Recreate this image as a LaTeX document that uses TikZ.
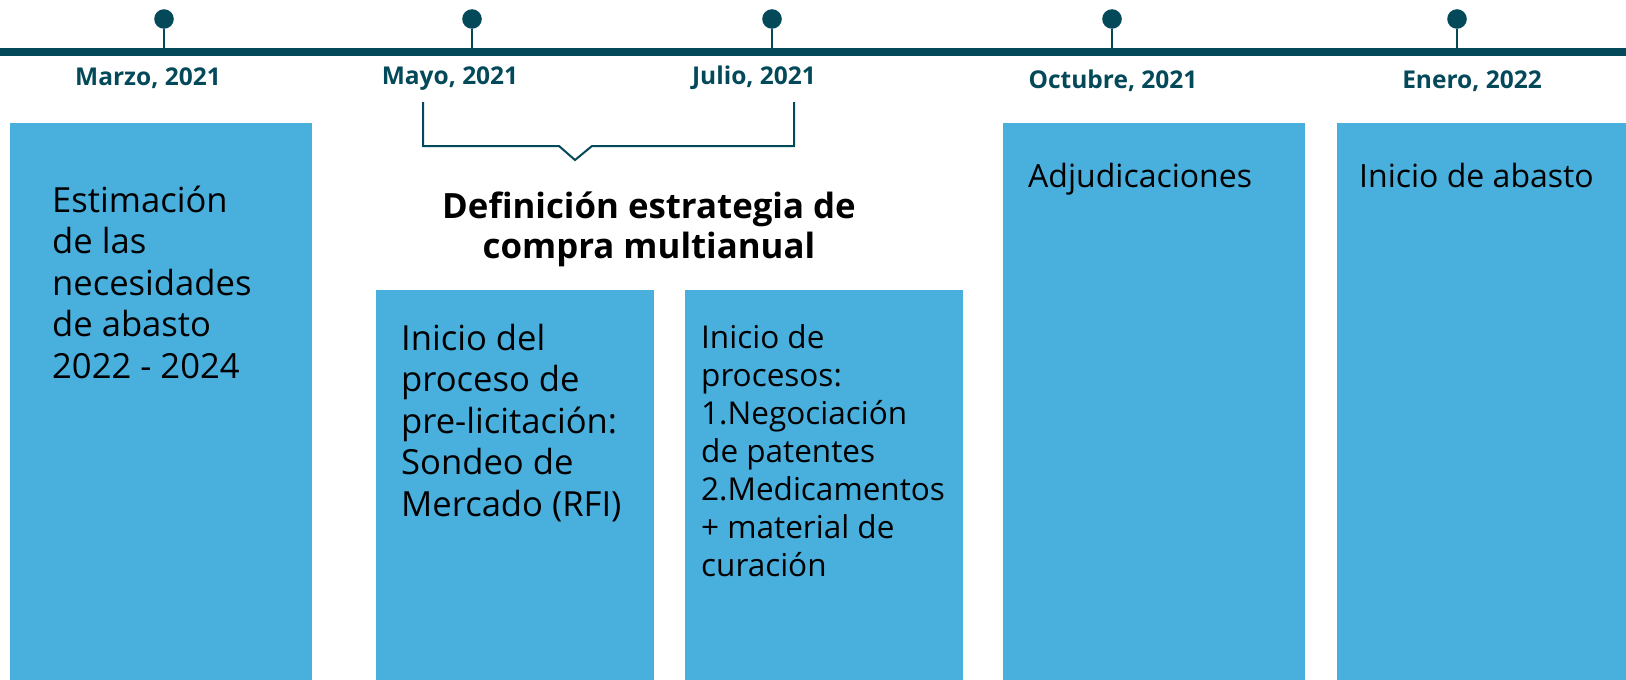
\documentclass[tikz,border=0pt]{standalone}
\usepackage{fontspec}
\setmainfont{Open Sans}

\definecolor{azuloscuro}{HTML}{04495A}
\definecolor{celeste}{HTML}{49AFDD}

\tikzset{
  caja/.style={fill=celeste},
  fecha/.style={anchor=base, text=azuloscuro, inner sep=0pt, font=\bfseries\fontsize{24.5}{28}\selectfont},
  texto/.style={anchor=base west, align=left, inner sep=0pt, font=\fontsize{34.6}{41.5}\selectfont},
  titulo/.style={anchor=base, align=center, inner sep=0pt, font=\bfseries\fontsize{34.8}{40}\selectfont},
}

\begin{document}
\begin{tikzpicture}[x=1pt, y=-1pt]
    \useasboundingbox (0,0) rectangle (1626,680);

    % Linea de tiempo
    \draw[azuloscuro, line width=7.4pt] (0,52) -- (1626,52);

    % Marcadores y fechas
    \foreach \x/\lx/\ly/\n/\t in {164/148/85/marzo/{Marzo, 2021}, 472/450/84/mayo/{Mayo, 2021}, 772/754/84/julio/{Julio, 2021}, 1112/1113/88/octubre/{Octubre, 2021}, 1457/1472/88/enero/{Enero, 2022}} {
        \draw[azuloscuro, line width=2pt] (\x,29) -- (\x,49);
        \fill[azuloscuro] (\x,19) circle (9.8pt);
        \node[fecha] (f-\n) at (\lx,\ly) {\t};
    }

    % Cajas
    \fill[caja] (10,123) rectangle (312,680);
    \fill[caja] (376,290) rectangle (654,680);
    \fill[caja] (685,290) rectangle (963,680);
    \fill[caja] (1003,123) rectangle (1305,680);
    \fill[caja] (1337,123) rectangle (1626,680);

    % Llave entre mayo y julio
    \draw[azuloscuro, line width=2pt] (423,102) -- (423,146) -- (559,146) -- (575,160) -- (592,146) -- (794,146) -- (794,102);
    % (el ancla base queda en la ultima linea)
    \node[titulo] (estrategia) at (649,258) {Definición estrategia de\\compra multianual};

    % Textos de las cajas
    \node[texto] (estimacion) at (52,378) {Estimación\\de las\\necesidades\\de abasto\\2022 - 2024};
    \node[texto] (sondeo) at (401,516) {Inicio del\\proceso de\\pre-licitación:\\Sondeo de\\Mercado (RFI)};
    \node[texto, font=\fontsize{31.5}{38}\selectfont] (procesos) at (701,576) {Inicio de\\procesos:\\1.Negociación\\de patentes\\2.Medicamentos\\+ material de\\curación};
    \node[texto, font=\fontsize{32}{40}\selectfont] (adjudicaciones) at (1028,187) {Adjudicaciones};
    \node[texto, font=\fontsize{32}{40}\selectfont] (abasto) at (1359,187) {Inicio de abasto};
\end{tikzpicture}
\end{document}
